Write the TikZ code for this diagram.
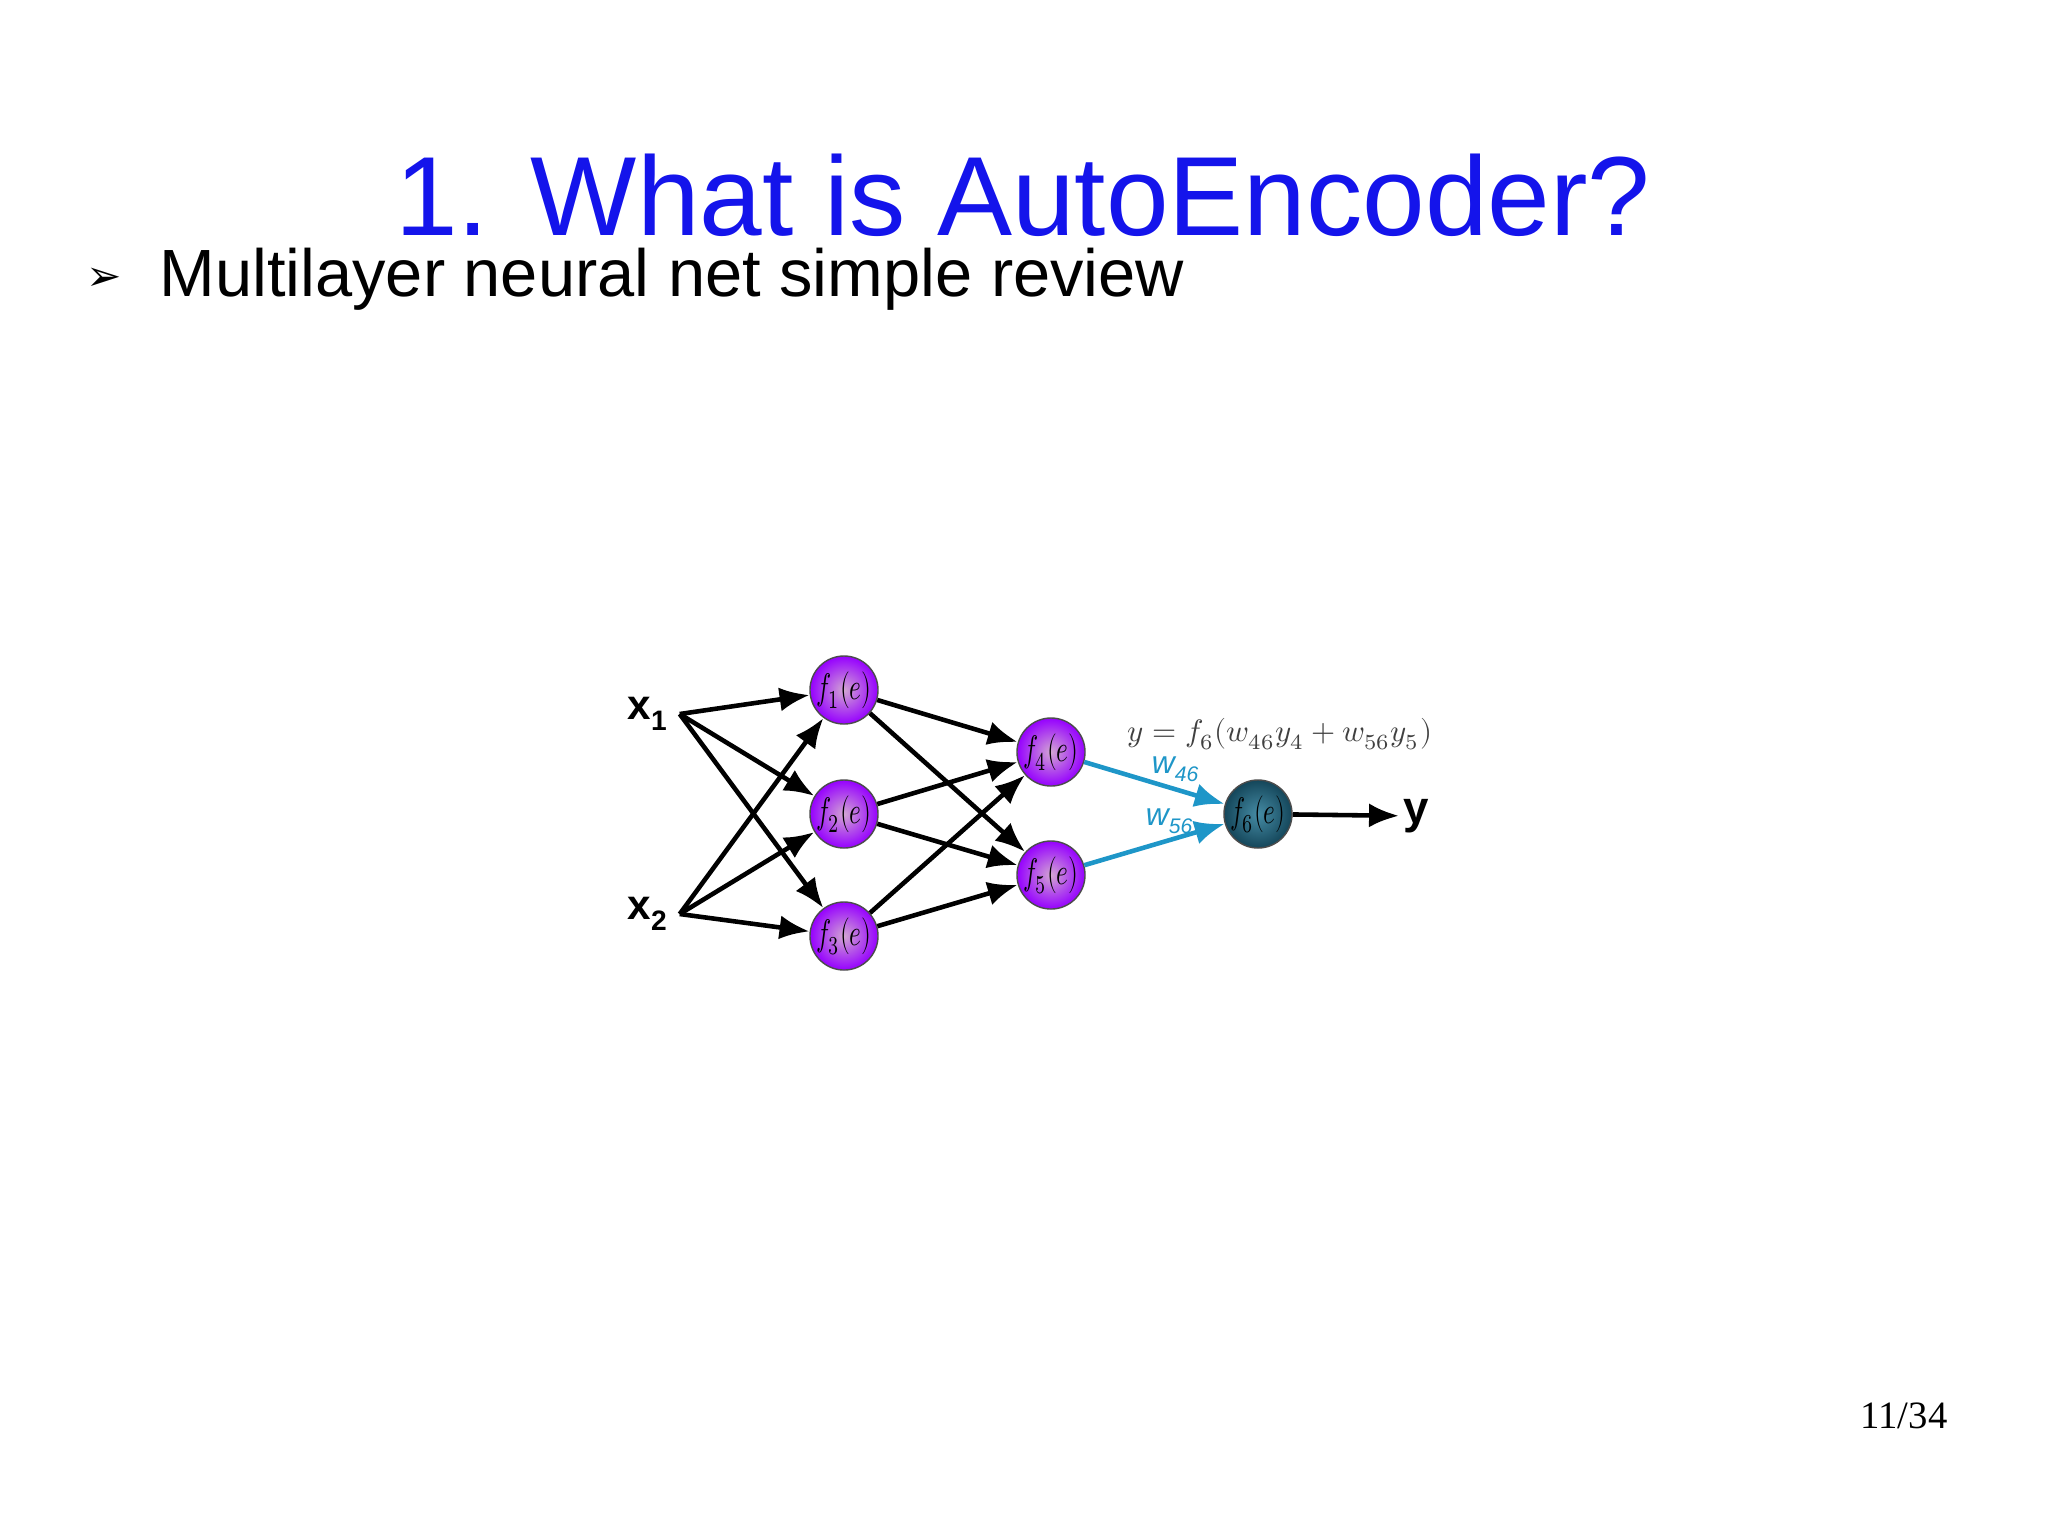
\documentclass[tikz,border=0pt]{standalone}
\usepackage{fontspec}
\setmainfont{Liberation Sans}
\usepackage{unicode-math}
\setmathfont{Latin Modern Math}
\newfontfamily\symb{DejaVu Sans}
\newfontfamily\serif{Liberation Serif}
\usetikzlibrary{arrows.meta}
\definecolor{titleblue}{RGB}{20,20,235}
\definecolor{wblue}{RGB}{30,150,200}
\tikzset{
  neuron/.style={circle, minimum size=0.68cm, inner sep=-6pt, draw=black!70, thin,
    shading=radial, inner color=violet!35!white, outer color={rgb,255:red,150;green,0;blue,255}},
  outneuron/.style={neuron, inner color={rgb,255:red,70;green,140;blue,165}, outer color={rgb,255:red,20;green,70;blue,90}},
  syn/.style={-{Latex[length=3mm,width=2.4mm]}, line width=1.3pt},
}
\newcommand{\fe}[1]{\scalebox{.72}[1.05]{$\fontsize{11}{12}\selectfont f_{#1}(e)$}}
\begin{document}
\begin{tikzpicture}[x=0.01cm, y=-0.01cm]
\useasboundingbox (0,0) rectangle (2048,1535);
\fill[white] (0,0) rectangle (2048,1535);

%%%%%%%%%%%%%-------------titulo
\node[anchor=base, text=titleblue, font=\fontsize{32}{36}\selectfont] (title) at (1023,235) {1. What is AutoEncoder?};
\node[anchor=base, font=\symb\fontsize{12}{14}\selectfont] (bullet) at (104,290) {➢};
\node[anchor=base west, font=\fontsize{19}{22}\selectfont] (item) at (147,296) {Multilayer neural net simple review};
\node[anchor=base, font=\serif\fontsize{11}{13}\selectfont] (page) at (1904,1428) {11/34};

%%%%%%%%%%%%%-------------red
\node[neuron] (f1) at (844,690) {\fe1};
\node[neuron] (f2) at (844,814) {\fe2};
\node[neuron] (f3) at (844,936) {\fe3};
\node[neuron] (f4) at (1051,752) {\fe4};
\node[neuron] (f5) at (1051,875) {\fe5};
\node[outneuron] (f6) at (1258,814) {\fe6};

\node[font=\bfseries\fontsize{12}{14}\selectfont, inner sep=1pt] (x1) at (648,714) {x\textsubscript{1}};
\node[font=\bfseries\fontsize{12}{14}\selectfont, inner sep=1pt] (x2) at (648,914) {x\textsubscript{2}};
\node[font=\bfseries\fontsize{13}{14}\selectfont, inner sep=1pt] (y) at (1416,816) {y};

\foreach \s in {x1,x2}{
  \foreach \t in {f1,f2,f3}{
    \draw[syn] ([xshift=2pt]\s.east) -- (\t);}}
\foreach \s in {f1,f2,f3}{
  \foreach \t in {f4,f5}{
    \draw[syn] (\s) -- (\t);}}
\draw[syn, wblue] (f4) -- (f6);
\draw[syn, wblue] (f5) -- (f6);
\draw[syn] (f6) -- (y);
\node[text=wblue, font=\itshape\fontsize{9}{10}\selectfont] (w46) at (1176,769) {w\textsubscript{46}};
\node[text=wblue, font=\itshape\fontsize{9}{10}\selectfont] (w56) at (1170,821) {w\textsubscript{56}};

\node[text=black!75, font=\fontsize{8.8}{10}\selectfont] (eq) at (1280,734) {$y = f_6(w_{46}y_4 + w_{56}y_5)$};
\end{tikzpicture}
\end{document}
